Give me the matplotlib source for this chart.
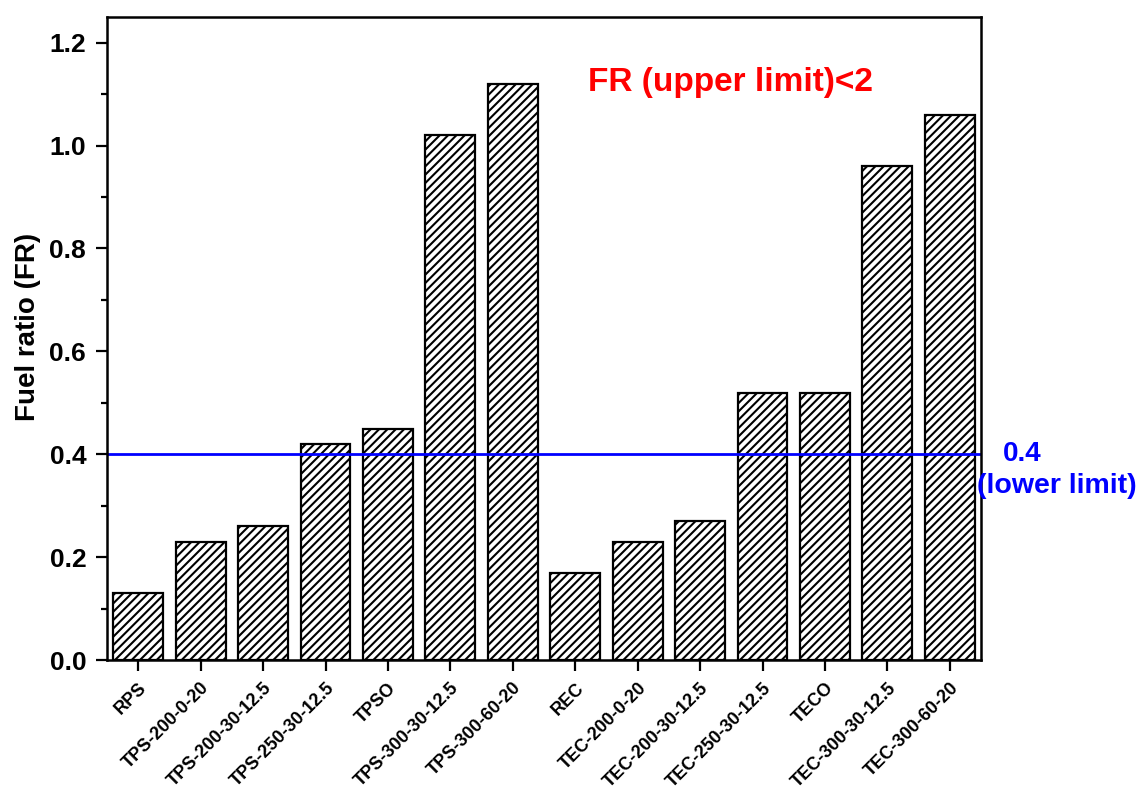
import matplotlib
matplotlib.use("Agg")
import matplotlib.pyplot as plt
import matplotlib.transforms as mtransforms
from matplotlib.ticker import MultipleLocator

# samples and their fuel ratio
samples = ["RPS", "TPS-200-0-20", "TPS-200-30-12.5", "TPS-250-30-12.5", "TPSO",
           "TPS-300-30-12.5", "TPS-300-60-20", "REC", "TEC-200-0-20",
           "TEC-200-30-12.5", "TEC-250-30-12.5", "TECO", "TEC-300-30-12.5",
           "TEC-300-60-20"]
fuel_ratio = [0.13, 0.23, 0.26, 0.42, 0.45, 1.02, 1.12,
              0.17, 0.23, 0.27, 0.52, 0.52, 0.96, 1.06]
lower_limit = 0.4

plt.rcParams['font.family'] = ['Liberation Sans', 'DejaVu Sans']
plt.rcParams['font.weight'] = 'bold'
plt.rcParams['hatch.linewidth'] = 1.5

W, H = 1141, 791
fig = plt.figure(figsize=(W / 100, H / 100), dpi=100)
ax = fig.add_axes([107 / W, 1 - 660 / H, (981 - 107) / W, (660 - 17) / H])

x = list(range(len(samples)))
ax.bar(x, fuel_ratio, width=0.8, color='white', edgecolor='black',
       linewidth=1.6, hatch='////')

# lower limit line and notes
ax.axhline(lower_limit, color='#0000ff', linewidth=2)
trans = ax.get_yaxis_transform()
ax.text(1.047, lower_limit, '0.4', transform=trans, color='#0000ff',
        fontsize=20, fontweight='bold', va='center', ha='center')
fig.text(1057 / W, 1 - 486 / H, '(lower limit)', color='#0000ff',
         fontsize=20.5, fontweight='bold', va='center', ha='center')
fig.text(730 / W, 1 - 82 / H, 'FR (upper limit)<2', color='#ff0000',
         fontsize=24, fontweight='bold', va='center', ha='center')

ax.set_xlim(-0.5, len(samples) - 0.5)
ax.set_ylim(0, 1.25)
ax.yaxis.set_major_locator(MultipleLocator(0.2))
ax.yaxis.set_minor_locator(MultipleLocator(0.1))
ax.set_xticks(x)
ax.set_xticklabels(samples, rotation=45, ha='right', rotation_mode='anchor',
                   fontsize=13, fontweight='bold')
# nudge the slanted labels a little to the right
shift = mtransforms.ScaledTranslation(12 / 100, 0, fig.dpi_scale_trans)
for lab in ax.get_xticklabels():
    lab.set_transform(lab.get_transform() + shift)
ax.tick_params(axis='y', labelsize=19, width=1.6, length=8, direction='out', pad=7)
ax.tick_params(axis='y', which='minor', width=1.6, length=4.5)
ax.tick_params(axis='x', width=1.6, length=8, direction='out', pad=6)
ax.set_ylabel('Fuel ratio (FR)', fontsize=20, fontweight='bold')
ax.yaxis.set_label_coords(-0.075, 0.518)
for s in ax.spines.values():
    s.set_linewidth(1.8)

fig.savefig('out.png', dpi=100)
